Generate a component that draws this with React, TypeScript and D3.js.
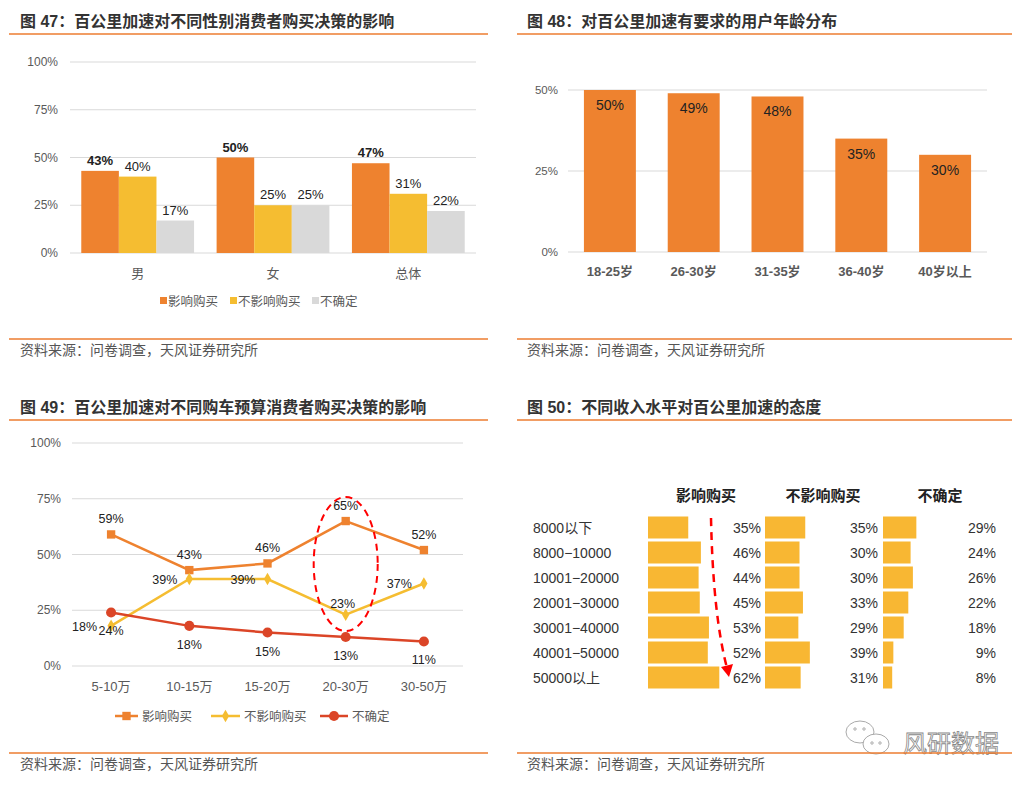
import React from 'react';
import * as d3 from 'd3';

// 图47
const genderCats = ['男', '女', '总体'];
const seriesNames = ['影响购买', '不影响购买', '不确定'];
const genderInfluence = [0.43, 0.5, 0.47];
const genderNoInfluence = [0.4, 0.25, 0.31];
const genderUnsure = [0.17, 0.25, 0.22];

// 图48
const ageCats = ['18-25岁', '26-30岁', '31-35岁', '36-40岁', '40岁以上'];
const ageValues = [0.5, 0.49, 0.48, 0.35, 0.3];

// 图49
const budgetCats = ['5-10万', '10-15万', '15-20万', '20-30万', '30-50万'];
const budgetInfluence = [0.59, 0.43, 0.46, 0.65, 0.52];
const budgetNoInfluence = [0.18, 0.39, 0.39, 0.23, 0.37];
const budgetUnsure = [0.24, 0.18, 0.15, 0.13, 0.11];

// 图50
const incomeCats = ['8000以下', '8000−10000', '10001−20000', '20001−30000', '30001−40000', '40001−50000', '50000以上'];
const incomeInfluence = [0.35, 0.46, 0.44, 0.45, 0.53, 0.52, 0.62];
const incomeNoInfluence = [0.35, 0.3, 0.3, 0.33, 0.29, 0.39, 0.31];
const incomeUnsure = [0.29, 0.24, 0.26, 0.22, 0.18, 0.09, 0.08];

const pctTicks = [0, 0.25, 0.5, 0.75, 1];

const ORANGE = '#EE822F';
const YELLOW = '#F5BD31';
const GRAY = '#D9D9D9';
const RED = '#DB4527';
const BAR4 = '#F8B733';
const LINE = '#ED7D31';
const FONT = '"Liberation Sans", Arial, "Noto Sans CJK SC", sans-serif';
const pct = d3.format('.0%');

const Header = ({ x, y, x1, x2, text }: { x: number; y: number; x1: number; x2: number; text: string }) => (
  <g>
    <text x={x} y={y} fontSize={16} fontWeight="bold" fill="#333">{text}</text>
    <line x1={x1} x2={x2} y1={y + 7} y2={y + 7} stroke={LINE} strokeWidth={1.5} />
  </g>
);

const Source = ({ x, y, x1, x2 }: { x: number; y: number; x1: number; x2: number }) => (
  <g>
    <line x1={x1} x2={x2} y1={y} y2={y} stroke={LINE} strokeWidth={1.5} />
    <text x={x} y={y + 16} fontSize={14} fill="#555">资料来源：问卷调查，天风证券研究所</text>
  </g>
);

const Chart47 = () => {
  const y = d3.scaleLinear().domain([0, 1]).range([253, 62]);
  const x = d3.scaleBand().domain(genderCats).range([70, 476]).padding(0);
  const sub = d3.scaleBand().domain(seriesNames).range([0, x.bandwidth()]).paddingInner(0).paddingOuter(0.3);
  const series = [genderInfluence, genderNoInfluence, genderUnsure];
  const colors = [ORANGE, YELLOW, GRAY];
  return (
    <g>
      {pctTicks.map(t => (
        <g key={t}>
          <line x1={70} x2={476} y1={y(t)} y2={y(t)} stroke="#D9D9D9" />
          <text x={58} y={y(t) + 4} fontSize={12} fill="#595959" textAnchor="end">{pct(t)}</text>
        </g>
      ))}
      {series.map((vals, si) => (
        <g key={si}>
          {genderCats.map((c, ci) => {
            const bx = (x(c) as number) + (sub(seriesNames[si]) as number);
            return (
              <g key={c}>
                <rect x={bx} y={y(vals[ci])} width={sub.bandwidth()} height={y(0) - y(vals[ci])} fill={colors[si]} />
                <text x={bx + sub.bandwidth() / 2} y={y(vals[ci]) - 6} fontSize={13} textAnchor="middle"
                  fontWeight={si === 0 ? 'bold' : 'normal'} fill="#222">{pct(vals[ci])}</text>
              </g>
            );
          })}
        </g>
      ))}
      {genderCats.map(c => (
        <text key={c} x={(x(c) as number) + x.bandwidth() / 2} y={278} fontSize={13} fill="#595959" textAnchor="middle">{c}</text>
      ))}
      {seriesNames.map((s, i) => {
        const lx = [160, 230, 312][i];
        return (
          <g key={s}>
            <rect x={lx} y={297} width={7} height={7} fill={colors[i]} />
            <text x={lx + 8} y={306} fontSize={12.5} fill="#595959">{s}</text>
          </g>
        );
      })}
    </g>
  );
};

const Chart48 = () => {
  const y = d3.scaleLinear().domain([0, 0.5]).range([252, 90]);
  const x = d3.scaleBand().domain(ageCats).range([568, 987]).paddingInner(0.38).paddingOuter(0.19);
  return (
    <g>
      {[0, 0.25, 0.5].map(t => (
        <g key={t}>
          <line x1={568} x2={987} y1={y(t)} y2={y(t)} stroke="#D9D9D9" />
          <text x={558} y={y(t) + 4} fontSize={11.5} fill="#595959" textAnchor="end">{pct(t)}</text>
        </g>
      ))}
      {ageCats.map((c, i) => (
        <g key={c}>
          <rect x={x(c)} y={y(ageValues[i])} width={x.bandwidth()} height={y(0) - y(ageValues[i])} fill={ORANGE} />
          <text x={(x(c) as number) + x.bandwidth() / 2} y={y(ageValues[i]) + 20} fontSize={14} textAnchor="middle" fill="#222">{pct(ageValues[i])}</text>
          <text x={(x(c) as number) + x.bandwidth() / 2} y={276} fontSize={13} fontWeight="bold" textAnchor="middle" fill="#595959">{c}</text>
        </g>
      ))}
    </g>
  );
};

const Chart49 = () => {
  const y = d3.scaleLinear().domain([0, 1]).range([666, 443]);
  const x = d3.scalePoint().domain(budgetCats).range([72, 463]).padding(0.5);
  const line = d3.line<number>().x((_, i) => x(budgetCats[i]) as number).y(d => y(d));
  const sq = d3.symbol().type(d3.symbolSquare).size(70)() as string;
  const dia = d3.symbol().type(d3.symbolDiamond).size(45)() as string;
  const cir = d3.symbol().type(d3.symbolCircle).size(80)() as string;
  const yellowOffsets: [number, number, string][] = [[-14, 5, 'end'], [-12, 5, 'end'], [-12, 5, 'end'], [-3, -7, 'middle'], [-12, 5, 'end']];
  return (
    <g>
      {pctTicks.map(t => (
        <g key={t}>
          <line x1={72} x2={463} y1={y(t)} y2={y(t)} stroke="#D9D9D9" />
          <text x={61} y={y(t) + 4} fontSize={12} fill="#595959" textAnchor="end">{pct(t)}</text>
        </g>
      ))}
      {budgetCats.map(c => (
        <text key={c} x={x(c) as number} y={691} fontSize={13} fill="#595959" textAnchor="middle">{c}</text>
      ))}
      <path d={line(budgetInfluence) as string} fill="none" stroke={ORANGE} strokeWidth={2.5} />
      <path d={line(budgetNoInfluence) as string} fill="none" stroke={YELLOW} strokeWidth={2.5} />
      <path d={line(budgetUnsure) as string} fill="none" stroke={RED} strokeWidth={2.5} />
      {budgetCats.map((c, i) => {
        const px = x(c) as number;
        const [dx, dy, anchor] = yellowOffsets[i];
        return (
          <g key={c}>
            <path d={sq} transform={`translate(${px},${y(budgetInfluence[i])})`} fill={ORANGE} />
            <path d={dia} transform={`translate(${px},${y(budgetNoInfluence[i])})`} fill={YELLOW} />
            <path d={cir} transform={`translate(${px},${y(budgetUnsure[i])})`} fill={RED} />
            <text x={px} y={y(budgetInfluence[i]) - 11} fontSize={12.5} textAnchor="middle" fill="#222">{pct(budgetInfluence[i])}</text>
            <text x={px + dx} y={y(budgetNoInfluence[i]) + dy} fontSize={12.5} textAnchor={anchor} fill="#222">{pct(budgetNoInfluence[i])}</text>
            <text x={px} y={y(budgetUnsure[i]) + 23} fontSize={12.5} textAnchor="middle" fill="#222">{pct(budgetUnsure[i])}</text>
          </g>
        );
      })}
      <ellipse cx={x('20-30万') as number} cy={564} rx={32} ry={67} fill="none" stroke="#FF0000" strokeWidth={2} strokeDasharray="7,5" />
      {[
        { x1: 115, x2: 138, c: ORANGE, m: sq, t: seriesNames[0] },
        { x1: 211, x2: 240, c: YELLOW, m: dia, t: seriesNames[1] },
        { x1: 320, x2: 348, c: RED, m: cir, t: seriesNames[2] },
      ].map(l => (
        <g key={l.t}>
          <line x1={l.x1} x2={l.x2} y1={716} y2={716} stroke={l.c} strokeWidth={2.5} />
          <path d={l.m} transform={`translate(${(l.x1 + l.x2) / 2},716)`} fill={l.c} />
          <text x={l.x2 + 4} y={721} fontSize={12.5} fill="#595959">{l.t}</text>
        </g>
      ))}
    </g>
  );
};

const Chart50 = () => {
  const rows = d3.scaleBand().domain(incomeCats).range([515, 690]).paddingInner(0.12).paddingOuter(0.06);
  const w = d3.scaleLinear().domain([0, 1]).range([0, 115]);
  const cols = [
    { start: 648, right: 761, head: 706, vals: incomeInfluence, name: seriesNames[0] },
    { start: 765, right: 878, head: 823, vals: incomeNoInfluence, name: seriesNames[1] },
    { start: 883, right: 996, head: 940, vals: incomeUnsure, name: seriesNames[2] },
  ];
  return (
    <g>
      {cols.map(c => (
        <g key={c.name}>
          <text x={c.head} y={501} fontSize={15} fontWeight="bold" textAnchor="middle" fill="#222">{c.name}</text>
          {incomeCats.map((r, i) => (
            <g key={r}>
              <rect x={c.start} y={rows(r)} width={w(c.vals[i])} height={rows.bandwidth()} fill={BAR4} />
              <text x={c.right} y={(rows(r) as number) + rows.bandwidth() / 2 + 5} fontSize={14} textAnchor="end" fill="#333">{pct(c.vals[i])}</text>
            </g>
          ))}
        </g>
      ))}
      {incomeCats.map(r => (
        <text key={r} x={533} y={(rows(r) as number) + rows.bandwidth() / 2 + 5} fontSize={14} fill="#333">{r}</text>
      ))}
      <path d="M711,518 Q713,615 727,668" fill="none" stroke="#FF0000" strokeWidth={2.5} strokeDasharray="8,6" />
      <path d="M721,667 L733,664 L729,677 Z" fill="#FF0000" />
      {/* watermark */}
      <g stroke="#aaa" fill="#fff" strokeWidth={1}>
        <ellipse cx={860} cy={732} rx={14} ry={11} />
        <ellipse cx={876} cy={744} rx={13} ry={10} />
        <circle cx={855} cy={729} r={1.2} />
        <circle cx={864} cy={729} r={1.2} />
        <circle cx={872} cy={743} r={1.2} />
        <circle cx={880} cy={743} r={1.2} />
      </g>
      <text x={903} y={752} fontSize={24} fill="#fff" stroke="#888" strokeWidth={0.8}
        fontFamily='"Noto Sans CJK SC", sans-serif'>风研数据</text>
    </g>
  );
};

export default function App() {
  return (
    <svg width={1033} height={788} style={{ position: 'absolute', left: 0, top: 0, background: '#fff' }} fontFamily={FONT}>
      <rect width={1033} height={788} fill="#fff" />
      <Header x={20} y={27} x1={9} x2={488} text="图 47：百公里加速对不同性别消费者购买决策的影响" />
      <Header x={527} y={27} x1={517} x2={1012} text="图 48：对百公里加速有要求的用户年龄分布" />
      <Header x={20} y={413} x1={9} x2={488} text="图 49：百公里加速对不同购车预算消费者购买决策的影响" />
      <Header x={527} y={413} x1={517} x2={1012} text="图 50：不同收入水平对百公里加速的态度" />
      <Chart47 />
      <Chart48 />
      <Chart49 />
      <Chart50 />
      <Source x={20} y={339} x1={9} x2={488} />
      <Source x={527} y={339} x1={517} x2={1012} />
      <Source x={20} y={753} x1={9} x2={488} />
      <Source x={527} y={753} x1={517} x2={1012} />
    </svg>
  );
}
